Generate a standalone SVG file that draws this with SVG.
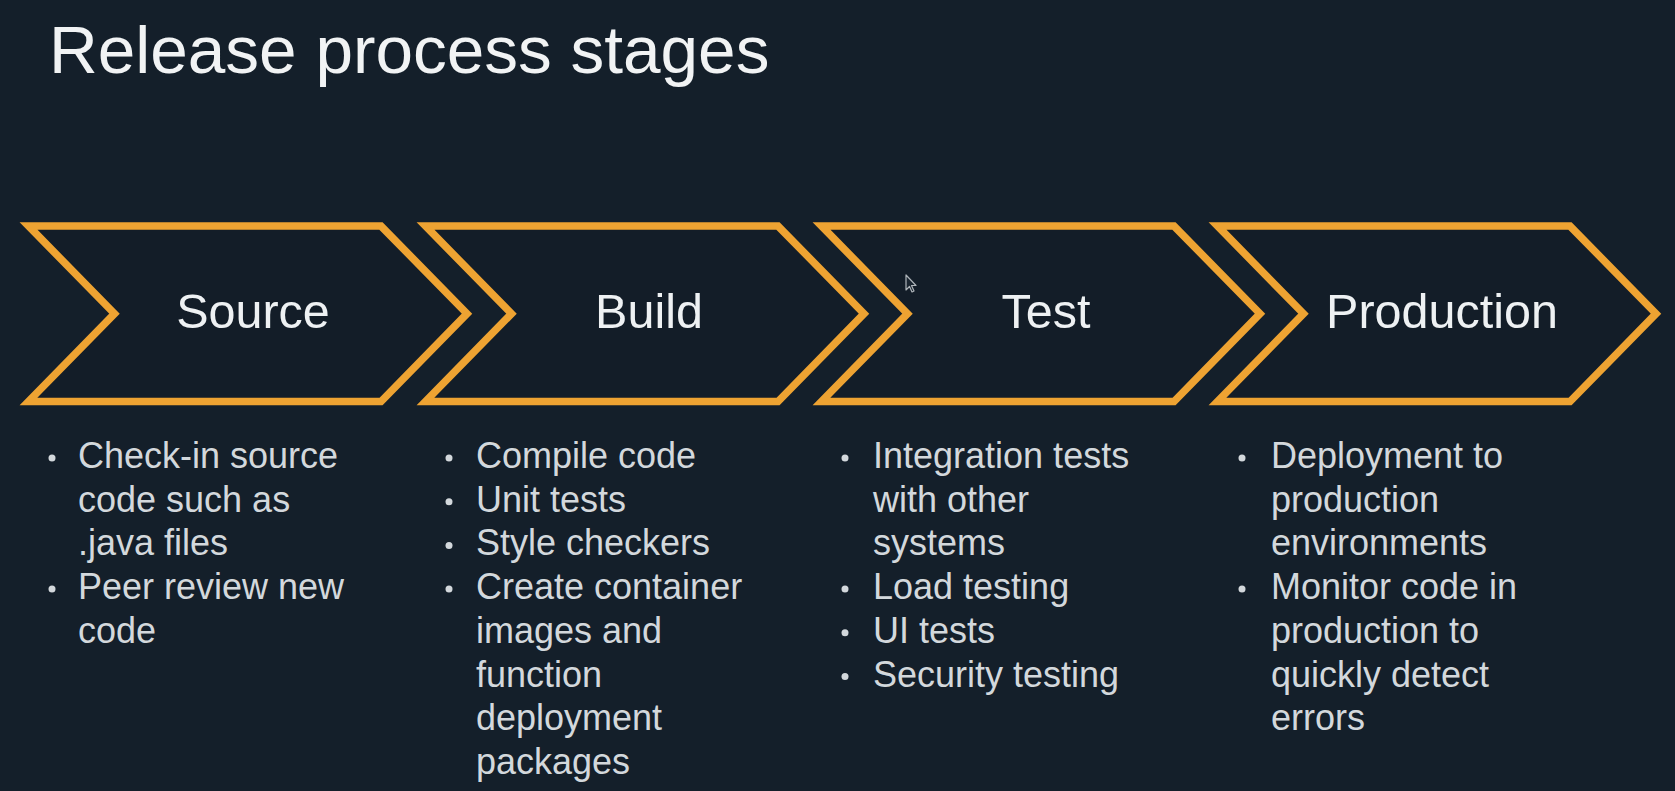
<svg xmlns="http://www.w3.org/2000/svg" width="1675" height="791" viewBox="0 0 1675 791">
  <defs>
    <style>
      .bg { fill: #141f2a; }
      .title { font-family: "Liberation Sans", Arial, sans-serif; font-size: 67.5px; fill: #f1f3f4; }
      .chev { fill: #131d28; stroke: #eea332; stroke-width: 7.5; stroke-linejoin: miter; }
      .label { font-family: "Liberation Sans", Arial, sans-serif; font-size: 48.5px; fill: #eef1f3; text-anchor: middle; }
      .item { font-family: "Liberation Sans", Arial, sans-serif; font-size: 36px; fill: #d3d8dc; }
      .dot { fill: #d3d8dc; }
    </style>
    <!-- one chevron outline, drawn at the origin and placed per stage -->
    <polygon id="chevron" points="28.5,226 381,226 467,313.7 381,401.5 28.5,401.5 114.5,313.7"/>
  </defs>

  <rect class="bg" x="0" y="0" width="1675" height="791"/>

  <text class="title" x="49" y="73">Release process stages</text>

  <g id="stage-source">
    <use href="#chevron" class="chev"/>
    <text class="label" x="253" y="328">Source</text>
    <circle class="dot" cx="52" cy="458" r="3.5"/>
    <circle class="dot" cx="52" cy="589" r="3.5"/>
    <text class="item" x="78">
      <tspan x="78" y="468">Check-in source</tspan>
      <tspan x="78" y="511.7">code such as</tspan>
      <tspan x="78" y="555.4">.java files</tspan>
      <tspan x="78" y="599.1">Peer review new</tspan>
      <tspan x="78" y="642.8">code</tspan>
    </text>
  </g>

  <g id="stage-build">
    <use href="#chevron" class="chev" transform="translate(397,0)"/>
    <text class="label" x="649" y="328">Build</text>
    <circle class="dot" cx="449" cy="458" r="3.5"/>
    <circle class="dot" cx="449" cy="501.7" r="3.5"/>
    <circle class="dot" cx="449" cy="545.4" r="3.5"/>
    <circle class="dot" cx="449" cy="589.1" r="3.5"/>
    <text class="item">
      <tspan x="476" y="468">Compile code</tspan>
      <tspan x="476" y="511.7">Unit tests</tspan>
      <tspan x="476" y="555.4">Style checkers</tspan>
      <tspan x="476" y="599.1">Create container</tspan>
      <tspan x="476" y="642.8">images and</tspan>
      <tspan x="476" y="686.5">function</tspan>
      <tspan x="476" y="730.2">deployment</tspan>
      <tspan x="476" y="773.9">packages</tspan>
    </text>
  </g>

  <g id="stage-test">
    <use href="#chevron" class="chev" transform="translate(793,0)"/>
    <text class="label" x="1046" y="328">Test</text>
    <circle class="dot" cx="845" cy="458" r="3.5"/>
    <circle class="dot" cx="845" cy="589.1" r="3.5"/>
    <circle class="dot" cx="845" cy="632.8" r="3.5"/>
    <circle class="dot" cx="845" cy="676.5" r="3.5"/>
    <text class="item">
      <tspan x="873" y="468">Integration tests</tspan>
      <tspan x="873" y="511.7">with other</tspan>
      <tspan x="873" y="555.4">systems</tspan>
      <tspan x="873" y="599.1">Load testing</tspan>
      <tspan x="873" y="642.8">UI tests</tspan>
      <tspan x="873" y="686.5">Security testing</tspan>
    </text>
  </g>

  <g id="stage-production">
    <use href="#chevron" class="chev" transform="translate(1189,0)"/>
    <text class="label" x="1442" y="328">Production</text>
    <circle class="dot" cx="1242" cy="458" r="3.5"/>
    <circle class="dot" cx="1242" cy="589.1" r="3.5"/>
    <text class="item">
      <tspan x="1271" y="468">Deployment to</tspan>
      <tspan x="1271" y="511.7">production</tspan>
      <tspan x="1271" y="555.4">environments</tspan>
      <tspan x="1271" y="599.1">Monitor code in</tspan>
      <tspan x="1271" y="642.8">production to</tspan>
      <tspan x="1271" y="686.5">quickly detect</tspan>
      <tspan x="1271" y="730.2">errors</tspan>
    </text>
  </g>

  <!-- mouse pointer -->
  <g id="pointer">
    <path d="M906,275 L906,290 L909.5,286.5 L912,292 L914,291 L911.5,285.5 L916,285.5 Z" fill="#1a2530" stroke="#aeb4b9" stroke-width="1.2" stroke-linejoin="round"/>
  </g>

  <g id="connectors"></g>
</svg>
